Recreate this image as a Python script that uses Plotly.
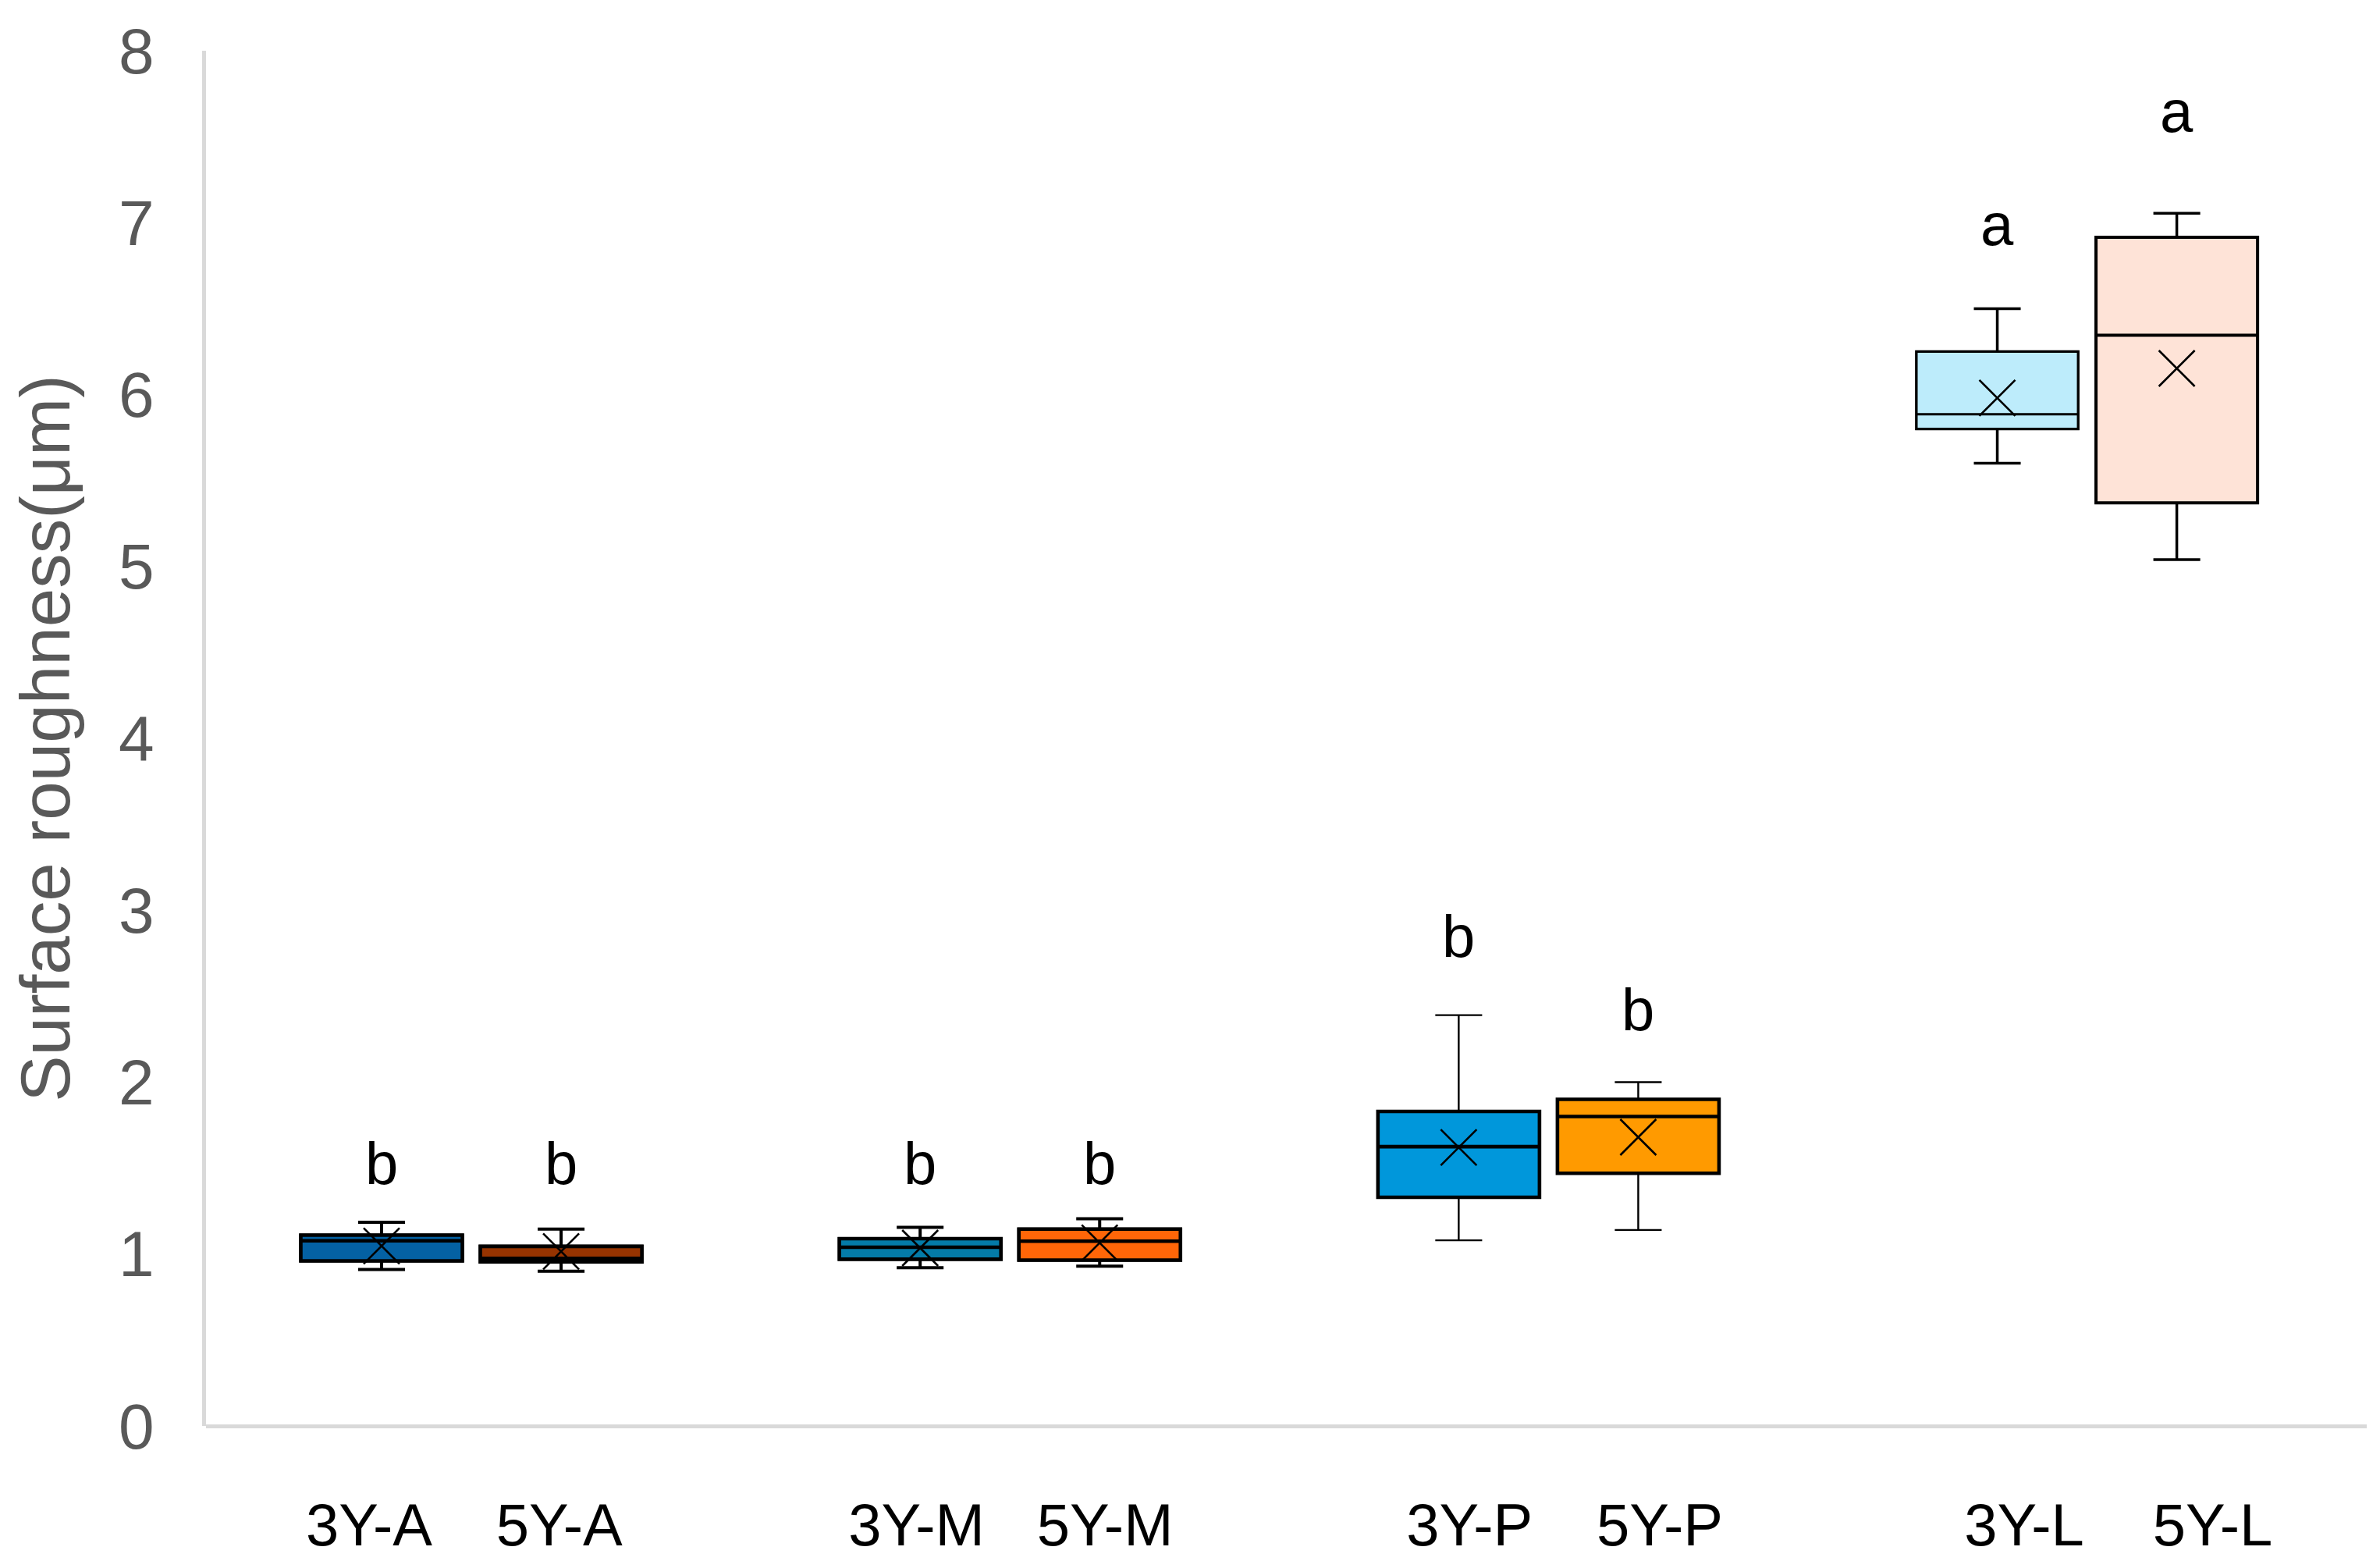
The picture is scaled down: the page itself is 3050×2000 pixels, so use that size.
import plotly.graph_objects as go

# five-number summaries (surface roughness, um)
groups = ["3Y-A", "5Y-A", "3Y-M", "5Y-M", "3Y-P", "5Y-P", "3Y-L", "5Y-L"]
lower = [0.91, 0.90, 0.92, 0.93, 1.08, 1.14, 5.60, 5.04]
q1 = [0.96, 0.955, 0.97, 0.965, 1.33, 1.47, 5.80, 5.37]
median = [1.077, 0.975, 1.04, 1.075, 1.625, 1.80, 5.885, 6.345]
q3 = [1.11, 1.045, 1.09, 1.145, 1.83, 1.90, 6.25, 6.915]
upper = [1.185, 1.145, 1.155, 1.205, 2.39, 2.00, 6.50, 7.055]
mean = [1.047, 1.015, 1.035, 1.065, 1.62, 1.68, 5.98, 6.152]
letters = ["b", "b", "b", "b", "b", "b", "a", "a"]
letter_y = [1.53, 1.53, 1.53, 1.53, 2.85, 2.42, 6.99, 7.65]
y_ticks = [0, 1, 2, 3, 4, 5, 6, 7, 8]

# layout: pairs of boxes with an empty slot between groups
positions = [0, 1, 3, 4, 6, 7, 9, 10]
label_pos = [-0.07, 0.99, 2.98, 4.03, 6.06, 7.12, 9.15, 10.2]
colors = ["#0461a3", "#963300", "#047ba8", "#ff6608",
          "#0097db", "#ff9a00", "#bdecfb", "#fee3d7"]
box_lw = [4.6, 4.6, 4.6, 4.6, 4.6, 4.6, 3, 4]
whisker_lw = [4, 4, 4, 4, 2.4, 2.4, 3.5, 3.5]

FONT = "Liberation Sans, Arial, sans-serif"


def plot():
    fig = go.Figure()
    for i, name in enumerate(groups):
        # whiskers + caps (thinner line), drawn first
        fig.add_trace(
            go.Box(
                x=[positions[i]],
                q1=[q1[i]], median=[median[i]], q3=[q3[i]],
                lowerfence=[lower[i]], upperfence=[upper[i]],
                fillcolor="rgba(0,0,0,0)",
                line={"color": "black", "width": whisker_lw[i]},
                width=0.9, whiskerwidth=0.29,
                boxpoints=False, showlegend=False, hoverinfo="skip",
            )
        )
        # the box itself on top
        fig.add_trace(
            go.Box(
                x=[positions[i]],
                q1=[q1[i]], median=[median[i]], q3=[q3[i]],
                lowerfence=[q1[i]], upperfence=[q3[i]],
                name=name,
                fillcolor=colors[i],
                line={"color": "black", "width": box_lw[i]},
                width=0.9, whiskerwidth=0,
                boxpoints=False, showlegend=False, hoverinfo="skip",
            )
        )

    fig.add_scatter(
        x=positions,
        y=mean,
        mode="markers",
        marker={"symbol": "x-thin-open", "size": 46, "color": "black",
                "line": {"color": "black", "width": 2.6}},
        showlegend=False,
        hoverinfo="skip",
    )

    for i, t in enumerate(letters):
        fig.add_annotation(
            x=positions[i], y=letter_y[i], text=t, showarrow=False,
            font={"family": FONT, "size": 76, "color": "black"},
        )

    fig.update_layout(
        width=3050,
        height=2000,
        margin=dict(l=256, r=25, t=57, b=176),
        plot_bgcolor="white",
        paper_bgcolor="white",
        font={"family": FONT},
        boxmode="overlay",
        xaxis=dict(
            range=[-0.978, 11.058],
            tickvals=label_pos,
            ticktext=groups,
            tickfont={"size": 76, "color": "black"},
            ticks="",
            ticklabelstandoff=76,
            showgrid=False,
            zeroline=False,
            showline=False,
        ),
        yaxis=dict(
            range=[0, 8],
            tickvals=y_ticks,
            tickfont={"size": 82, "color": "#595959"},
            ticks="",
            ticklabelstandoff=45,
            showgrid=False,
            zeroline=True,
            zerolinecolor="#d9d9d9",
            zerolinewidth=5,
            showline=True,
            linecolor="#d9d9d9",
            linewidth=5,
            title=dict(text="Surface roughness(μm)", standoff=42,
                       font={"size": 89, "color": "#595959"}),
        ),
    )

    fig.write_html("out.html")


def main():
    plot()


if __name__ == "__main__":
    main()
